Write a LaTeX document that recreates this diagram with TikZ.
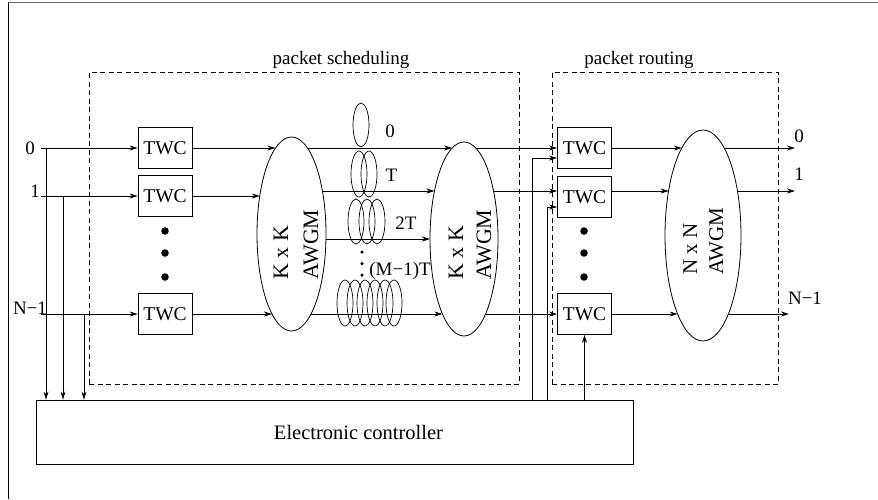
\documentclass[tikz,border=0pt]{standalone}
\usepackage{fontspec}
\setmainfont{Liberation Serif}
\usetikzlibrary{arrows.meta,shapes.geometric,calc}
\begin{document}
\begin{tikzpicture}[x=1pt,y=-1pt,
  lw/.style={line width=0.8pt},
  arr/.style={lw,-{Stealth[length=8pt,width=5pt,inset=2.5pt]}},
  twc/.style={draw,lw,minimum width=54pt,minimum height=41pt,inner sep=0pt,font=\fontsize{19.5}{22}\selectfont},
  awgm/.style={draw,lw,ellipse,inner sep=0pt},
  coil/.style={draw,line width=0.7pt,ellipse,minimum width=16pt,minimum height=45pt,inner sep=0pt},
  txt/.style={font=\fontsize{19}{22}\selectfont,inner sep=0pt},
  bigA/.style={font=\fontsize{22}{26}\selectfont,inner sep=0pt,rotate=90,anchor=base west},
  bigB/.style={font=\fontsize{21}{25}\selectfont,inner sep=0pt,rotate=90,anchor=base west},
  bdot/.style={circle,fill,inner sep=0pt,minimum size=7.5pt},
  sdot/.style={circle,fill,inner sep=0pt,minimum size=3.5pt},
  group/.style={draw,dash pattern=on 5pt off 3.5pt,line width=0.7pt,inner sep=0pt}
]
\useasboundingbox (0,0) rectangle (878,499);
% outer frame
\draw[line width=1pt,black!60] (8,2.5) -- (878,2.5);
\draw[line width=1pt] (8,2.5) -- (8,499);

% groups
\node[group,minimum width=430pt,minimum height=312pt] (sched) at (304,228) {};
\node[group,minimum width=226pt,minimum height=312pt] (route) at (665,228) {};
\node[txt,anchor=base] (lsched) at (341,64) {packet scheduling};
\node[txt,anchor=base] (lroute) at (639,64) {packet routing};

% controller
\node[draw,lw,minimum width=597pt,minimum height=64pt,inner sep=0pt] (ctrl) at (334.5,432) {};
\node[txt,font=\fontsize{20.5}{24}\selectfont] (lctrl) at (358.5,432) {Electronic controller};

% input TWCs
\node[twc] (a0) at (165,148) {TWC};
\node[twc] (a1) at (165,196) {TWC};
\node[twc] (aN) at (165,314) {TWC};
\node[bdot] (ad1) at (165,231) {};
\node[bdot] (ad2) at (165,253) {};
\node[bdot] (ad3) at (165,277) {};

% routing TWCs
\node[twc] (r0) at (584.5,148) {TWC};
\node[twc] (r1) at (584.5,197) {TWC};
\node[twc] (rN) at (584.5,314) {TWC};
\node[bdot] (rd1) at (584,231) {};
\node[bdot] (rd2) at (584,253) {};
\node[bdot] (rd3) at (584,277) {};

% AWGMs
\node[awgm,minimum width=69pt,minimum height=194pt] (e1) at (291.5,234) {};
\node[bigA] (e1a) at (288,280) {K x K};
\node[bigA] (e1b) at (318,280) {AWGM};
\node[awgm,minimum width=68pt,minimum height=194pt] (e2) at (464,239) {};
\node[bigA] (e2a) at (463,280) {K x K};
\node[bigA] (e2b) at (491,280) {AWGM};
\node[awgm,minimum width=76pt,minimum height=211pt] (e3) at (703,235.5) {};
\node[bigB] (e3a) at (697,275) {N x N};
\node[bigB] (e3b) at (723,275) {AWGM};

% fibre delay coils
\node[coil,minimum height=44pt] (k0) at (361,125) {};
\node[coil,minimum height=46pt] (k1a) at (359,174) {};
\node[coil,minimum height=46pt] (k1b) at (369,174) {};
\node[coil] (k2a) at (356,221.5) {};
\node[coil] (k2b) at (367,221.5) {};
\node[coil] (k2c) at (377,221.5) {};
\foreach \i/\x in {1/345,2/355,3/365,4/375,5/385,6/394}
  \node[coil,minimum height=46pt] (km\i) at (\x,303) {};
\node[sdot] (vd1) at (362,252) {};
\node[sdot] (vd2) at (362,263.5) {};
\node[sdot] (vd3) at (362,275) {};
\node[txt] (l0) at (390,131) {0};
\node[txt] (lT) at (391.5,175) {T};
\node[txt] (l2T) at (406,223) {2T};
\node[txt] (lMT) at (400,271) {(M−1)T};

% input labels and start points
\node[txt] (n0) at (30,148) {0};
\node[txt] (n1) at (35,191) {1};
\node[txt] (nN) at (30,308) {N−1};
\coordinate (i0) at (41,148);
\coordinate (i1) at (41,196);
\coordinate (iN) at (41,314);
\coordinate (t0) at (46,148);
\coordinate (t1) at (63,196);
\coordinate (tN) at (84,314);

% ellipse boundary points
\coordinate (e1l0) at (275.5,148);
\coordinate (e1r0) at (307.5,148);
\coordinate (e1l1) at (259.8,196);
\coordinate (e1r1) at (322.4,191);
\coordinate (e1r2) at (325.9,239);
\coordinate (e1lN) at (272,314);
\coordinate (e1rN) at (311,314);
\coordinate (e2l0) at (452.2,148);
\coordinate (e2r0) at (475.8,148);
\coordinate (e2l1) at (434.5,191);
\coordinate (e2r1) at (493.5,191);
\coordinate (e2l2) at (430,239);
\coordinate (e2lN) at (442.4,314);
\coordinate (e2rN) at (485.6,314);
\coordinate (e3l0) at (681.8,148);
\coordinate (e3r0) at (724.2,148);
\coordinate (e3l1) at (668.6,191);
\coordinate (e3r1) at (737.4,191);
\coordinate (e3lN) at (677.6,314);
\coordinate (e3rN) at (728.4,314);
\coordinate (o0) at (795,148);
\coordinate (o1) at (795,191);
\coordinate (oN) at (789,314);
\node[txt] (m0) at (799,136) {0};
\node[txt] (m1) at (799,174) {1};
\node[txt] (mN) at (805,298) {N−1};

% inputs
\draw[arr] (i0) -- (a0.west);
\draw[arr] (i1) -- (a1.west);
\draw[arr] (iN) -- (aN.west);
\draw[arr] (t0) -- (t0 |- ctrl.north);
\draw[arr] (t1) -- (t1 |- ctrl.north);
\draw[arr] (tN) -- (tN |- ctrl.north);

% TWC -> AWGM 1
\draw[arr] (a0.east) -- (e1l0);
\draw[arr] (a1.east) -- (e1l1);
\draw[arr] (aN.east) -- (e1lN);

% AWGM 1 -> AWGM 2
\draw[arr] (e1r0) -- (e2l0);
\draw[arr] (e1r1) -- (e2l1);
\draw[arr] (e1r2) -- (e2l2);
\draw[arr] (e1rN) -- (e2lN);

% AWGM 2 -> routing TWCs
\draw[arr] (e2r0) -- (e2r0 -| r0.west);
\draw[arr] (e2r1) -- (e2r1 -| r1.west);
\draw[arr] (e2rN) -- (e2rN -| rN.west);

% routing TWC -> AWGM 3 -> outputs
\draw[arr] (r0.east) -- (e3l0);
\draw[arr] (r0.east |- e3l1) -- (e3l1);
\draw[arr] (rN.east) -- (e3lN);
\draw[arr] (e3r0) -- (o0);
\draw[arr] (e3r1) -- (o1);
\draw[arr] (e3rN) -- (oN);

% control lines
\coordinate (c0) at (532,158);
\coordinate (c1) at (547,207);
\draw[arr] (c0 |- ctrl.north) |- ($(r0.west)+(0,10)$);
\draw[arr] (c1 |- ctrl.north) |- ($(r1.west)+(0,10)$);
\draw[arr] (rN.south |- ctrl.north) -- (rN.south);
\end{tikzpicture}
\end{document}
